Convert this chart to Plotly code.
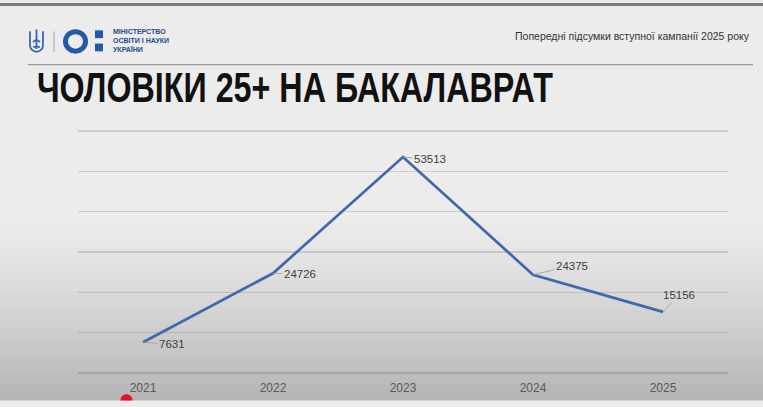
import plotly.graph_objects as go

years = ["2021", "2022", "2023", "2024", "2025"]
values = [7631, 24726, 53513, 24375, 15156]
label_dx = [29, 27, 27, 39, 16]
label_dy = [2, 1, 2, -9, -17]

W, H = 763, 407
PAD = 3
L, R, T, B = 78, 35, 131 - PAD, 407 - 379 - PAD
PW, PH = W - L - R, H - T - B
YMAX = 60000
r0 = PAD * YMAX / (PH - 2 * PAD)

def px(x):
    return (x - L) / PW

def py(y):
    return (H - B - y) / PH

def P(x, y):
    return f"{px(x):.5f},{py(y):.5f}"

fig = go.Figure()
fig.add_trace(go.Scatter(
    x=years, y=values, mode="lines",
    line=dict(color="#3f68ae", width=2.7),
    hoverinfo="skip", showlegend=False,
))

shapes = []
# background gradient
top_c, bot_c = (236, 236, 236), (180, 180, 180)
y0g = 215
n = 48
step = (H - y0g) / n
shapes.append(dict(type="rect", xref="paper", yref="paper", x0=px(0), x1=px(W),
                   y0=py(y0g), y1=py(0), fillcolor="rgb(236,236,236)", line_width=0, layer="below"))
for i in range(n):
    t = (i + 0.5) / n
    t = t ** 1.3
    c = tuple(int(round(a + (b - a) * t)) for a, b in zip(top_c, bot_c))
    ya = y0g + i * step
    yb = min(ya + step + 0.6, H)
    shapes.append(dict(type="rect", xref="paper", yref="paper", x0=px(0), x1=px(W),
                       y0=py(yb), y1=py(ya), fillcolor=f"rgb{c}", line_width=0, layer="below"))
# top dark band
shapes.append(dict(type="rect", xref="paper", yref="paper", x0=px(0), x1=px(W),
                   y0=py(3), y1=py(0), fillcolor="#7a7a7a", line_width=0, layer="below"))
# header rule
shapes.append(dict(type="line", xref="paper", yref="paper", x0=px(28), x1=px(753),
                   y0=py(63), y1=py(63), line=dict(color="#9a9a9a", width=1.2)))
# separator
shapes.append(dict(type="line", xref="paper", yref="paper", x0=px(54), x1=px(54),
                   y0=py(29), y1=py(50), line=dict(color="#a8a8a8", width=1)))
blue = "#2459a8"
# logo ring
shapes.append(dict(type="circle", xref="paper", yref="paper", x0=px(65.5), x1=px(85.5),
                   y0=py(49.3), y1=py(29.3), line=dict(color=blue, width=5)))
# logo squares
shapes.append(dict(type="rect", xref="paper", yref="paper", x0=px(95), x1=px(103),
                   y0=py(36), y1=py(28), fillcolor=blue, line_width=0))
shapes.append(dict(type="rect", xref="paper", yref="paper", x0=px(95), x1=px(103),
                   y0=py(49.5), y1=py(41.5), fillcolor=blue, line_width=0))
# trident emblem (stylised)
trident = ("M " + P(36.5, 27) + " L " + P(36.5, 47) +
           " M " + P(30, 29) + " L " + P(30, 43) + " Q " + P(30, 49) + " " + P(36.5, 50) +
           " M " + P(43, 29) + " L " + P(43, 43) + " Q " + P(43, 49) + " " + P(36.5, 50) +
           " M " + P(33, 40) + " Q " + P(36.5, 36) + " " + P(40, 40) +
           " M " + P(33, 45) + " L " + P(40, 45))
shapes.append(dict(type="path", xref="paper", yref="paper", path=trident,
                   line=dict(color="#3a67b5", width=1.8)))
# red dot at bottom edge (only top half visible)
dot = "M " + P(120.5, 407) + " C " + P(120.5, 398.5) + " " + P(132.5, 398.5) + " " + P(132.5, 407) + " Z"
shapes.append(dict(type="path", xref="paper", yref="paper", path=dot,
                   fillcolor="#e8102a", line_width=0))

annotations = []
for i, (v, dx, dy) in enumerate(zip(values, label_dx, label_dy)):
    annotations.append(dict(x=i, y=v, xref="x", yref="y", text=f"{v}", showarrow=True,
                            arrowhead=0, arrowwidth=0.8, arrowcolor="#9a9a9a",
                            ax=dx, ay=dy, standoff=0,
                            font=dict(family="Liberation Sans, Arial, sans-serif", size=11.5, color="#404040")))

annotations.append(dict(x=px(111), y=py(38.5), xref="paper", yref="paper", xanchor="left", yanchor="middle",
                        text="МІНІСТЕРСТВО<br>ОСВІТИ І НАУКИ<br>УКРАЇНИ", showarrow=False, align="left",
                        font=dict(family="Liberation Sans, Arial, sans-serif", size=7, color="#24498f", weight="bold")))
annotations.append(dict(x=px(752), y=py(34), xref="paper", yref="paper", xanchor="right", yanchor="middle",
                        text="Попередні підсумки вступної кампанії 2025 року", showarrow=False,
                        font=dict(family="Liberation Sans, Arial, sans-serif", size=10.5, color="#333333")))
annotations.append(dict(x=px(295), y=py(86), xref="paper", yref="paper", xanchor="center", yanchor="middle",
                        text="<b>ЧОЛОВІКИ 25+ НА БАКАЛАВРАТ</b>", showarrow=False,
                        font=dict(family="Liberation Sans, Arial, sans-serif", size=43, color="#111111")))

fig.update_layout(
    width=W, height=H, autosize=False,
    margin=dict(l=L, r=R, t=T, b=B),
    paper_bgcolor="#ececec", plot_bgcolor="rgba(0,0,0,0)",
    shapes=shapes, annotations=annotations,
    xaxis=dict(type="category", range=[-0.5, 4.5], showgrid=False, zeroline=False, showline=False,
               ticks="", tickfont=dict(family="Liberation Sans, Arial, sans-serif", size=12, color="#595959"),
               ticklabelstandoff=3, fixedrange=True),
    yaxis=dict(range=[-r0, YMAX + r0], tick0=0, dtick=10000, showgrid=True, gridcolor="rgba(0,0,0,0.13)",
               gridwidth=1.2, zeroline=False, showline=False, showticklabels=False, fixedrange=True),
)

post = """
var st = document.createElement('style');
st.textContent = 'html,body{margin:0!important;padding:0!important;overflow:hidden!important;background:#ececec;}';
document.head.appendChild(st);
var els = document.querySelectorAll('.annotation-text');
els.forEach(function(el){
  if (el.textContent.indexOf('ЧОЛОВІКИ') >= 0) {
    el.setAttribute('textLength', '516');
    el.setAttribute('lengthAdjust', 'spacingAndGlyphs');
  }
});
"""

fig.write_html("out.html", post_script=post,
               config={"responsive": False, "displayModeBar": False, "staticPlot": True},
               default_width="763px", default_height="407px")
